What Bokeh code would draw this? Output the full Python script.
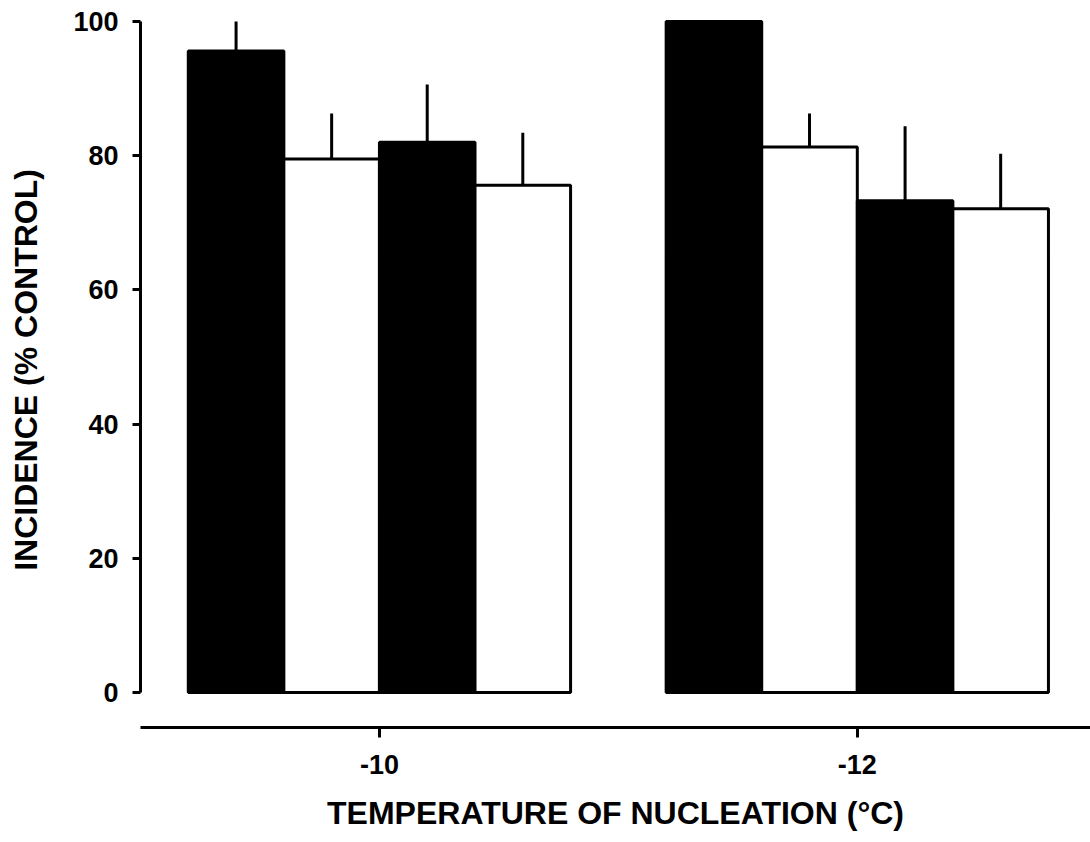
from bokeh.plotting import figure
from bokeh.models import FixedTicker, Range1d
from bokeh.embed import file_html
from bokeh.resources import INLINE

# Data
temperatures = ["-10", "-12"]
group_centers = [2.5, 7.5]
bar_x = [1, 2, 3, 4, 6, 7, 8, 9]
bar_values = [95.6, 79.5, 82.0, 75.6, 100.0, 81.3, 73.3, 72.1]
bar_errors = [4.4, 6.8, 8.6, 7.8, 0.0, 5.0, 11.1, 8.2]
bar_fill = ["black", "white", "black", "white", "black", "white", "black", "white"]
y_ticks = [0, 20, 40, 60, 80, 100]

err_top = [v + e for v, e in zip(bar_values, bar_errors)]

FONT = "Liberation Sans"

p = figure(width=1090, height=842, output_backend="svg", toolbar_location=None,
           x_range=Range1d(0, 9.94), y_range=Range1d(-5.22, 101.34),
           min_border_left=140, min_border_right=0, min_border_top=12,
           min_border_bottom=115)
p.outline_line_color = None
p.xgrid.visible = False
p.ygrid.visible = False
p.background_fill_color = "white"
p.border_fill_color = "white"

# error bars (upper only)
p.segment(x0=bar_x, y0=bar_values, x1=bar_x, y1=err_top,
          line_color="black", line_width=3)
# bars
p.vbar(x=bar_x, top=bar_values, bottom=0, width=1.0, fill_color=bar_fill,
       line_color="black", line_width=3)

# y axis
ya = p.yaxis[0]
ya.ticker = FixedTicker(ticks=y_ticks)
ya.bounds = (0, 100)
ya.axis_line_width = 3
ya.major_tick_line_width = 3
ya.major_tick_out = 8
ya.major_tick_in = 0
ya.minor_tick_line_color = None
ya.major_label_text_font = FONT
ya.major_label_text_font_style = "bold"
ya.major_label_text_font_size = "27px"
ya.major_label_text_color = "black"
ya.major_label_standoff = 14
ya.axis_label = "INCIDENCE (% CONTROL)"
ya.axis_label_text_font = FONT
ya.axis_label_text_font_style = "bold"
ya.axis_label_text_font_size = "32px"
ya.axis_label_text_color = "black"
ya.axis_label_standoff = 26

# x axis
xa = p.xaxis[0]
xa.ticker = FixedTicker(ticks=group_centers)
xa.major_label_overrides = {c: t for c, t in zip(group_centers, temperatures)}
xa.axis_line_width = 3
xa.major_tick_line_width = 3
xa.major_tick_out = 10
xa.major_tick_in = 0
xa.minor_tick_line_color = None
xa.major_label_text_font = FONT
xa.major_label_text_font_style = "bold"
xa.major_label_text_font_size = "27px"
xa.major_label_text_color = "black"
xa.major_label_standoff = 17
xa.axis_label = "TEMPERATURE OF NUCLEATION (°C)"
xa.axis_label_text_font = FONT
xa.axis_label_text_font_style = "bold"
xa.axis_label_text_font_size = "32px"
xa.axis_label_text_color = "black"
xa.axis_label_standoff = 18

open("out.html", "w").write(file_html(p, INLINE))
